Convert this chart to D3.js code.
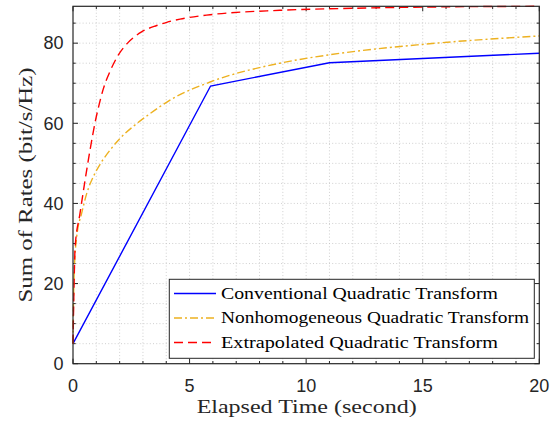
<!DOCTYPE html>
<html><head><meta charset="utf-8">
<script src="https://cdn.jsdelivr.net/npm/d3@7"></script>
<style>body{margin:0;background:#fff}svg{display:block}</style>
</head><body><svg id="c" width="559" height="424"></svg>
<script>
// ---- data ----
const seriesNames = ["Conventional Quadratic Transform","Nonhomogeneous Quadratic Transform","Extrapolated Quadratic Transform"];
const convX = [0, 5.9, 11, 20];
const convY = [5, 69.3, 75.1, 77.5];
const nonhomX = [0, 0.02, 0.06, 0.16, 0.37, 0.59, 0.94, 1.23, 1.59, 2.01, 2.58, 3.3, 4.16, 5.88, 8.87, 11, 15, 20];
const nonhomY = [5, 15, 24, 31.7, 37.5, 42.5, 47.5, 50.4, 53.3, 56.2, 59.2, 62.4, 65.8, 70.3, 75, 77.1, 79.7, 81.8];
const extraX = [0, 0.04, 0.09, 0.3, 0.51, 0.73, 0.94, 1.16, 1.3, 1.59, 1.94, 2.37, 2.94, 3.59, 4.02, 4.59, 5.88, 8.87, 12, 15, 20];
const extraY = [5, 18, 29, 37.5, 45.5, 53.3, 60, 65.6, 68.6, 73, 77, 80.2, 82.8, 84.4, 85.2, 86, 87.1, 88.2, 88.7, 89, 89.2];
const xTicks = [0, 5, 10, 15, 20];
const yTicks = [0, 20, 40, 60, 80];
const xLabel = "Elapsed Time (second)";
const yLabel = "Sum of Rates (bit/s/Hz)";

const svg = d3.select("#c");
const L = 73, R = 539.3, T = 6.3, B = 363.7;
const x = d3.scaleLinear().domain([0, 20]).range([L, R]);
const y = d3.scaleLinear().domain([0, 89.2]).range([B, T]);
const axisCol = "#262626";

// grid
const g = svg.append("g");
d3.range(1, 20).forEach(v => g.append("line").attr("x1", x(v)).attr("x2", x(v)).attr("y1", T).attr("y2", B)
  .attr("stroke", "#c4c4c4").attr("stroke-width", 0.8).attr("stroke-dasharray", "1,2.2"));
d3.range(5, 89, 5).forEach(v => g.append("line").attr("y1", y(v)).attr("y2", y(v)).attr("x1", L).attr("x2", R)
  .attr("stroke", "#c4c4c4").attr("stroke-width", 0.8).attr("stroke-dasharray", "1,2.2"));

// ticks (inside) on all four sides
const tk = svg.append("g").attr("stroke", axisCol).attr("stroke-width", 1);
d3.range(0, 21, 1).forEach(v => {
  const len = xTicks.includes(v) ? 5 : 2.7;
  tk.append("line").attr("x1", x(v)).attr("x2", x(v)).attr("y1", B).attr("y2", B - len);
  tk.append("line").attr("x1", x(v)).attr("x2", x(v)).attr("y1", T).attr("y2", T + len);
});
d3.range(0, 89, 5).forEach(v => {
  const len = yTicks.includes(v) ? 5 : 2.7;
  tk.append("line").attr("y1", y(v)).attr("y2", y(v)).attr("x1", L).attr("x2", L + len);
  tk.append("line").attr("y1", y(v)).attr("y2", y(v)).attr("x1", R).attr("x2", R - len);
});

// lines
const line = d3.line().curve(d3.curveMonotoneX);
const mk = (xs, ys) => xs.map((v, i) => [x(v), y(ys[i])]);
const styles = [
  {col: "#0000ff", dash: null},
  {col: "#EDB120", dash: "8,3,2,3"},
  {col: "#ff0000", dash: "9,5"}
];
const datas = [mk(convX, convY), mk(nonhomX, nonhomY), mk(extraX, extraY)];
datas.forEach((d, i) => {
  svg.append("path").attr("d", i === 0 ? d3.line()(d) : line(d)).attr("fill", "none")
    .attr("stroke", styles[i].col).attr("stroke-width", 1.4)
    .attr("stroke-dasharray", styles[i].dash);
});

// frame
svg.append("rect").attr("x", L).attr("y", T).attr("width", R - L).attr("height", B - T)
  .attr("fill", "none").attr("stroke", axisCol).attr("stroke-width", 1.2);

// tick labels
const sans = "'Liberation Sans', Arial, sans-serif";
svg.append("g").selectAll("text").data(xTicks).join("text")
  .attr("x", d => x(d)).attr("y", 392).attr("text-anchor", "middle")
  .attr("font-family", sans).attr("font-size", 18).attr("fill", axisCol).text(d => d);
svg.append("g").selectAll("text").data(yTicks).join("text")
  .attr("x", 63.5).attr("y", d => y(d)).attr("dy", "0.35em").attr("text-anchor", "end")
  .attr("font-family", sans).attr("font-size", 18).attr("fill", axisCol).text(d => d);

// axis labels
const serif = "'Liberation Serif', 'Times New Roman', serif";
svg.append("text").attr("x", (L + R) / 2 + 0.5).attr("y", 413).attr("text-anchor", "middle")
  .attr("font-family", serif).attr("font-size", 18.5).attr("fill", axisCol)
  .attr("textLength", 220).attr("lengthAdjust", "spacingAndGlyphs").text(xLabel);
svg.append("text").attr("transform", `translate(32,${(T + B) / 2}) rotate(-90)`).attr("text-anchor", "middle")
  .attr("font-family", serif).attr("font-size", 18.5).attr("fill", axisCol)
  .attr("textLength", 235).attr("lengthAdjust", "spacingAndGlyphs").text(yLabel);

// legend
const lg = svg.append("g");
lg.append("rect").attr("x", 169.3).attr("y", 279.3).attr("width", 534.3 - 169.3).attr("height", 358.3 - 279.3)
  .attr("fill", "#fff").attr("stroke", axisCol).attr("stroke-width", 1);
const rowsY = [293.5, 318, 342.5];
const textW = [277, 308, 277];
seriesNames.forEach((nm, i) => {
  lg.append("line").attr("x1", 174).attr("x2", 216).attr("y1", rowsY[i]).attr("y2", rowsY[i])
    .attr("stroke", styles[i].col).attr("stroke-width", 1.4).attr("stroke-dasharray", styles[i].dash);
  lg.append("text").attr("x", 221).attr("y", rowsY[i]).attr("dy", "0.33em")
    .attr("font-family", serif).attr("font-size", 16.5).attr("fill", "#000")
    .attr("textLength", textW[i]).attr("lengthAdjust", "spacingAndGlyphs").text(nm);
});
</script></body></html>
